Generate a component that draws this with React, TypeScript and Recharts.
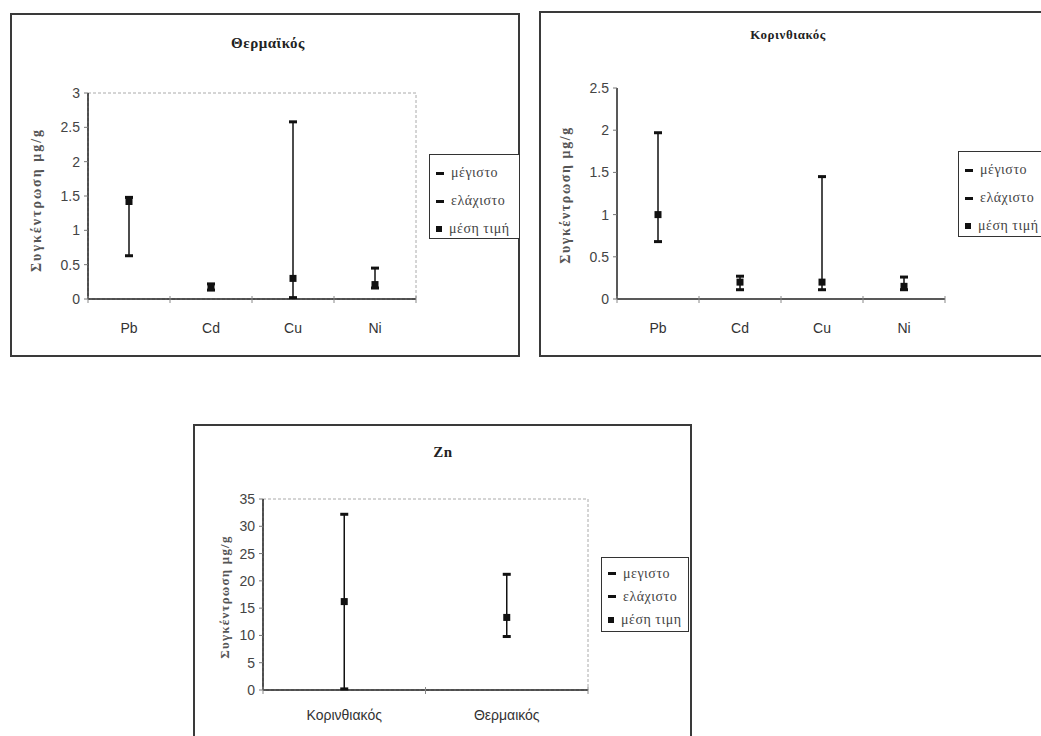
import React from "react";
import { ComposedChart, Line, XAxis, YAxis, ErrorBar, ReferenceArea } from "recharts";

// Θερμαϊκός
const metals = ["Pb", "Cd", "Cu", "Ni"];
const thermaikosMax = [1.48, 0.22, 2.58, 0.45];
const thermaikosMin = [0.63, 0.13, 0.02, 0.16];
const thermaikosMean = [1.42, 0.17, 0.3, 0.21];
const thermaikosTicks = [0, 0.5, 1, 1.5, 2, 2.5, 3];

// Κορινθιακός
const korinthiakosMax = [1.97, 0.27, 1.45, 0.26];
const korinthiakosMin = [0.68, 0.11, 0.11, 0.11];
const korinthiakosMean = [1.0, 0.2, 0.2, 0.15];
const korinthiakosTicks = [0, 0.5, 1, 1.5, 2, 2.5];

// Zn
const gulfs = ["Κορινθιακός", "Θερμαικός"];
const znMax = [32.2, 21.2];
const znMin = [0.2, 9.8];
const znMean = [16.2, 13.3];
const znTicks = [0, 5, 10, 15, 20, 25, 30, 35];

const legendA = ["μέγιστο", "ελάχιστο", "μέση τιμή"];
const legendZn = ["μεγιστο", "ελάχιστο", "μέση τιμη"];
const yLabel = "Συγκέντρωση μg/g";

const sans = "'Liberation Sans', Arial, sans-serif";
const serif = "'Liberation Serif', 'Times New Roman', serif";

const Dash = (props: any) => {
  const { cx, cy } = props;
  if (cx == null || cy == null) return <g />;
  return <rect x={cx - 4} y={cy - 1.5} width={8} height={3} fill="#111" />;
};

const Square = (props: any) => {
  const { cx, cy } = props;
  if (cx == null || cy == null) return <g />;
  return <rect x={cx - 3.5} y={cy - 3.5} width={7} height={7} fill="#111" />;
};

const makeTick = (names: string[], dy: number) => (props: any) => {
  const { x, y, payload } = props;
  const v = payload.value as number;
  if (Number.isInteger(v)) {
    return <line x1={x} x2={x} y1={y - 3} y2={y + 4} stroke="#888" />;
  }
  return (
    <text x={x} y={y + dy} textAnchor="middle" fontSize={14} fill="#333" fontFamily={sans}>
      {names[Math.floor(v)]}
    </text>
  );
};

interface RangeChartProps {
  names: string[];
  max: number[];
  min: number[];
  mean: number[];
  yTicks: number[];
  box: { left: number; top: number; width: number; height: number };
  margin: { top: number; right: number; bottom: number; left: number };
  title: string;
  titleX: number;
  titleY: number;
  titleSize: number;
  legend: string[];
  legendBox: { left: number; top: number; width: number; height: number };
  legendGap: number;
  framed: boolean;
  labelDy: number;
  yLabelX: number;
  yLabelY: number;
  yLabelSize: number;
  yLabelSpacing: number;
}

function RangeChart(p: RangeChartProps) {
  const data = p.names.map((name, i) => ({
    pos: i + 0.5,
    name,
    max: p.max[i],
    min: p.min[i],
    mean: p.mean[i],
    err: [p.mean[i] - p.min[i], p.max[i] - p.mean[i]],
  }));
  const n = p.names.length;
  const xTicks = Array.from({ length: 2 * n + 1 }, (_, k) => k / 2);
  const yTop = p.yTicks[p.yTicks.length - 1];

  return (
    <div
      style={{
        position: "absolute",
        left: p.box.left,
        top: p.box.top,
        width: p.box.width,
        height: p.box.height,
        border: "2px solid #3a3a3a",
        boxSizing: "border-box",
        background: "#fff",
      }}
    >
      <div style={{ position: "absolute", left: -2, top: -2 }}>
        <ComposedChart width={p.box.width} height={p.box.height} data={data} margin={p.margin}>
          {p.framed && (
            <ReferenceArea
              x1={0}
              x2={n}
              y1={0}
              y2={yTop}
              fill="none"
              stroke="#aaa"
              strokeDasharray="3 2"
              ifOverflow="visible"
            />
          )}
          <XAxis
            dataKey="pos"
            type="number"
            domain={[0, n]}
            ticks={xTicks}
            interval={0}
            tickLine={false}
            tickSize={0}
            tickMargin={0}
            height={30}
            axisLine={{ stroke: "#222", strokeWidth: 1.5 }}
            tick={makeTick(p.names, p.labelDy)}
          />
          <YAxis
            type="number"
            domain={[0, yTop]}
            ticks={p.yTicks}
            interval={0}
            width={40}
            tickSize={4}
            tickMargin={4}
            axisLine={{ stroke: "#222", strokeWidth: 1.5 }}
            tickLine={{ stroke: "#777" }}
            tick={{ fontSize: 14, fill: "#444", fontFamily: sans }}
          />
          <Line dataKey="max" stroke="none" dot={<Dash />} activeDot={false} isAnimationActive={false} />
          <Line dataKey="min" stroke="none" dot={<Dash />} activeDot={false} isAnimationActive={false} />
          <Line dataKey="mean" stroke="none" dot={<Square />} activeDot={false} isAnimationActive={false}>
            <ErrorBar dataKey="err" width={0} stroke="#111" strokeWidth={1.5} direction="y" />
          </Line>
        </ComposedChart>
      </div>
      <div
        style={{
          position: "absolute",
          left: p.titleX - 100 - 2,
          top: p.titleY - 10 - 2,
          width: 200,
          height: 20,
          lineHeight: "20px",
          textAlign: "center",
          fontFamily: serif,
          fontWeight: "bold",
          fontSize: p.titleSize,
          color: "#222",
          letterSpacing: 0.5,
        }}
      >
        {p.title}
      </div>
      <div
        style={{
          position: "absolute",
          left: p.yLabelX - 2,
          top: p.yLabelY - 2,
          transform: "translate(-50%, -50%) rotate(-90deg)",
          whiteSpace: "nowrap",
          fontFamily: serif,
          fontWeight: "bold",
          fontSize: p.yLabelSize,
          letterSpacing: p.yLabelSpacing,
          color: "#555",
        }}
      >
        {yLabel}
      </div>
      <div
        style={{
          position: "absolute",
          left: p.legendBox.left - 2,
          top: p.legendBox.top - 2,
          width: p.legendBox.width,
          height: p.legendBox.height,
          border: "1.5px solid #333",
          boxSizing: "border-box",
          background: "#fff",
          paddingTop: 4,
          paddingLeft: 6,
        }}
      >
        {p.legend.map((label, i) => (
          <div
            key={label}
            style={{
              height: p.legendGap,
              display: "flex",
              alignItems: "center",
              fontFamily: serif,
              fontSize: 14,
              color: "#444",
              whiteSpace: "nowrap",
              letterSpacing: 0.5,
            }}
          >
            <span
              style={{
                display: "inline-block",
                width: i === 2 ? 6 : 8,
                height: i === 2 ? 6 : 3,
                background: "#111",
                marginRight: 7,
              }}
            />
            {label}
          </div>
        ))}
      </div>
    </div>
  );
}

export default function App() {
  return (
    <div
      style={{
        position: "absolute",
        left: 0,
        top: 0,
        width: 1041,
        height: 736,
        overflow: "hidden",
        background: "#fff",
      }}
    >
      <RangeChart
        names={metals}
        max={thermaikosMax}
        min={thermaikosMin}
        mean={thermaikosMean}
        yTicks={thermaikosTicks}
        box={{ left: 10, top: 13, width: 510, height: 344 }}
        margin={{ top: 80, right: 104, bottom: 28, left: 38 }}
        title="Θερμαϊκός"
        titleX={258}
        titleY={30}
        titleSize={15}
        legend={legendA}
        legendBox={{ left: 419, top: 141, width: 91, height: 85 }}
        legendGap={28}
        framed={true}
        labelDy={34}
        yLabelX={27}
        yLabelY={187}
        yLabelSize={14}
        yLabelSpacing={2}
      />
      <RangeChart
        names={metals}
        max={korinthiakosMax}
        min={korinthiakosMin}
        mean={korinthiakosMean}
        yTicks={korinthiakosTicks}
        box={{ left: 539, top: 11, width: 515, height: 346 }}
        margin={{ top: 77, right: 109, bottom: 28, left: 38 }}
        title="Κορινθιακός"
        titleX={249}
        titleY={24}
        titleSize={13}
        legend={legendA}
        legendBox={{ left: 419, top: 140, width: 110, height: 86 }}
        legendGap={28}
        framed={false}
        labelDy={34}
        yLabelX={27}
        yLabelY={184}
        yLabelSize={14}
        yLabelSpacing={1.6}
      />
      <RangeChart
        names={gulfs}
        max={znMax}
        min={znMin}
        mean={znMean}
        yTicks={znTicks}
        box={{ left: 193, top: 424, width: 499, height: 330 }}
        margin={{ top: 75, right: 104, bottom: 34, left: 30 }}
        title="Zn"
        titleX={250}
        titleY={28}
        titleSize={15}
        legend={legendZn}
        legendBox={{ left: 408, top: 133, width: 88, height: 75 }}
        legendGap={23}
        framed={true}
        labelDy={30}
        yLabelX={32}
        yLabelY={173}
        yLabelSize={13}
        yLabelSpacing={1.2}
      />
    </div>
  );
}
